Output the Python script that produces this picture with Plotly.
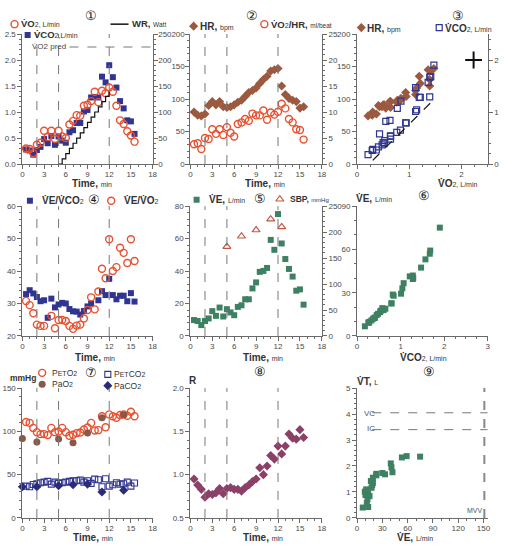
import plotly.graph_objects as go

W, H = 509, 549

# ---------------- data ----------------
time = [0.5, 1.0, 1.5, 2.0, 2.5, 3.0, 3.5, 4.0, 4.5, 5.0, 5.5, 6.0, 6.5, 7.0, 7.5, 8.0,
        8.5, 9.0, 9.5, 10.0, 10.5, 11.0, 11.5, 12.0, 12.5, 13.0, 13.5, 14.0, 14.5, 15.0, 15.5]
vo2 = [0.30, 0.29, 0.21, 0.37, 0.41, 0.64, 0.52, 0.64, 0.48, 0.64, 0.53, 0.50, 0.76, 0.83, 0.94, 0.93,
       1.12, 1.14, 1.21, 1.39, 1.19, 1.41, 1.36, 1.47, 1.39, 1.12, 0.84, 0.77, 0.63, 0.55, 0.43]
vco2 = [0.28, 0.26, 0.18, 0.27, 0.33, 0.48, 0.40, 0.54, 0.37, 0.53, 0.45, 0.41, 0.61, 0.65, 0.79, 0.79,
        1.01, 1.04, 1.28, 1.29, 1.28, 1.68, 1.57, 1.90, 1.67, 1.47, 1.21, 1.07, 0.84, 0.82, 0.58]
wr_time = [5.0, 5.5, 6.0, 6.5, 7.0, 7.5, 8.0, 8.5, 9.0, 9.5, 10.0, 10.5, 11.0, 11.5, 12.0]
wr = [0, 10, 20, 30, 40, 50, 60, 70, 80, 90, 100, 110, 120, 130, 140]
hr = [80, 75, 74, 77, 90, 96, 91, 96, 88, 87, 88, 91, 95, 98, 104, 110,
      113, 117, 124, 130, 135, 143, 145, 147, 120, 107, 101, 98, 96, 86, 88]
o2pulse = [3.8, 4.0, 2.9, 5.0, 4.8, 6.7, 5.8, 6.7, 5.6, 7.1, 6.0, 5.3, 7.7, 8.0, 8.65, 8.3,
           9.7, 9.35, 9.35, 10.3, 8.5, 9.9, 9.5, 10.05, 11.6, 10.7, 8.65, 8.0, 6.7, 6.55, 4.7]
ve = [9.8, 9.2, 6.7, 9.2, 10.8, 15.3, 12.4, 17.5, 12.0, 16.5, 14.5, 12.8, 17.9, 18.9, 22.6, 22.6,
      29.3, 33.0, 39.5, 40.1, 41.9, 59.2, 53.1, 75.1, 57.0, 47.4, 41.3, 36.6, 27.9, 28.7, 19.3]
ve_vco2 = [32.9, 34.1, 33.1, 32.0, 30.7, 31.0, 25.6, 31.5, 28.8, 29.7, 30.2, 30.0, 28.3, 27.6, 27.5, 26.6,
           27.7, 29.1, 30.0, None, 31.0, 33.8, 32.6, 37.6, 32.6, 31.3, 32.4, 32.4, 30.7, 33.2, 30.6]
ve_vo2 = [30.8, 29.5, 27.0, 23.5, 23.1, 23.1, None, 26.2, 22.4, 24.9, 24.9, 24.6, 23.1, 22.2, 23.2, 23.5,
          25.4, 28.0, 31.9, 28.2, 33.7, 40.7, 37.8, 49.8, 40.0, 41.2, 47.2, 45.6, 42.5, 49.8, 43.1]
sbp_time = [5.0, 7.0, 9.0, 11.0, 12.5]
sbp = [172, 192, 204, 225, 210]
peto2 = [110.9, 109.8, 104.0, 99.1, 96.8, 96.8, 95.7, 104.0, 99.1, 99.9, 104.0, 99.1, 95.0, 96.1, 98.0, 98.7,
         102.2, 104.4, 109.8, 101.0, 101.4, 117.4, 104.8, 119.6, 117.4, 115.8, 118.9, 119.6, 118.1, 122.7, 117.4]
petco2 = [36.8, 36.1, 38.7, 39.5, 40.6, 41.4, 42.2, 39.1, 41.4, 39.9, 40.6, 41.4, 42.2, 42.9, 42.9, 43.7,
          41.4, 42.9, 39.9, 44.8, 44.1, 36.1, 45.2, 36.8, 38.4, 40.6, 39.1, 39.5, 41.4, 36.8, 40.3]
blood_time = [0, 2, 5, 7, 9, 11, 14]
pao2 = [91.9, 87.7, 91.1, 87.0, 98.0, 115.8, 119.3]
paco2 = [36.1, 36.1, 37.2, 38.4, 39.1, 30.0, 31.9]
r_ratio = [0.95, 0.88, 0.83, 0.74, 0.78, 0.77, 0.79, 0.84, 0.78, 0.84, 0.85, 0.83, 0.83, 0.81, 0.85, 0.88,
           0.92, 0.95, 1.08, 1.00, 1.10, 1.22, 1.18, 1.33, 1.24, 1.33, 1.47, 1.42, 1.41, 1.52, 1.43]
ve9 = [6.8, 9.2, 10.0, 10.8, 11.6, 12.4, 13.2, 13.2, 14.8, 16.4, 17.2, 18.0, 18.8, 18.8, 22.8, 22.8,
       30.0, 33.2, 40.0, 40.8, 42.0, 53.2, 58.8, 74.8]
vt9 = [0.40, 1.01, 0.88, 1.10, 0.57, 0.72, 0.94, 0.42, 0.84, 1.42, 1.16, 1.27, 1.55, 1.35, 1.70, 1.64,
       1.73, 1.68, 2.10, 1.95, 1.76, 2.33, 2.38, 2.36]
phase_marks = [2, 5, 12]
vo2_pred = 2.25
vc, ic, mvv = 4.05, 3.4, 151

# ---------------- styles ----------------
RED = '#e8502f'
NAVY = '#2f3590'
BROWN = '#9b5a40'
GREEN = '#3e8062'
MAROON = '#8c4068'
SBPC = '#c05a45'
FONT = 'Liberation Sans, Arial, sans-serif'
AX = '#6a6a6a'

col = {1: (20.7, 152.7), 2: (191.0, 324.3), 3: (360.0, 492.5)}
row = {1: (30.5, 162.7), 2: (205.5, 337.5), 3: (390.5, 522.5)}


def xd(c):
    return [col[c][0] / W, col[c][1] / W]


def yd(r):
    return [1 - row[r][1] / H, 1 - row[r][0] / H]


def axis(rng, dtick, minor, **kw):
    d = dict(range=rng, dtick=dtick, tick0=rng[0], showline=True, linecolor=AX, linewidth=1,
             ticks='outside', ticklen=4, tickcolor=AX, tickwidth=1,
             tickfont=dict(size=8, color='#4a4a4a', family=FONT),
             showgrid=False, zeroline=False, fixedrange=True,
             minor=dict(ticks='outside', ticklen=2, tickcolor=AX, dtick=minor, showgrid=False))
    d.update(kw)
    return d


def xaxis(rng, dtick, minor, **kw):
    return axis(rng, dtick, minor, ticklabelstandoff=-2, **kw)


fig = go.Figure()


def add(x, y, xa, ya, symbol, color, size=7, lw=1.4):
    fig.add_trace(go.Scatter(x=x, y=y, xaxis=xa, yaxis=ya, mode='markers', showlegend=False,
                             marker=dict(symbol=symbol, color=color, size=size,
                                         line=dict(color=color, width=lw)),
                             cliponaxis=False, hoverinfo='skip'))

# panel 1
add(time, vco2, 'x', 'y', 'square', NAVY, 6, 0)
add(time, vo2, 'x', 'y', 'circle-open', RED, 7)
fig.add_trace(go.Scatter(x=wr_time, y=wr, xaxis='x', yaxis='y10', mode='lines', line_shape='hv',
                         line=dict(color='#111', width=1.2), showlegend=False))
# panel 2
add(time, hr, 'x2', 'y2', 'diamond', BROWN, 7, 0)
add(time, o2pulse, 'x2', 'y11', 'circle-open', RED, 7)
# panel 3
add(vo2, hr, 'x3', 'y3', 'diamond', BROWN, 7, 0)
add(vo2, vco2, 'x3', 'y12', 'square-open', NAVY, 6, 1.2)
fig.add_trace(go.Scatter(x=[2.23], y=[2.0], xaxis='x3', yaxis='y12', mode='markers', showlegend=False,
                         marker=dict(symbol='cross-thin-open', size=12, color='#111',
                                     line=dict(color='#111', width=2))))
# panel 4
add(time, ve_vco2, 'x4', 'y4', 'square', NAVY, 6, 0)
add(time, ve_vo2, 'x4', 'y4', 'circle-open', RED, 7)
# panel 5
add(time, ve, 'x5', 'y5', 'square', GREEN, 6, 0)
add(sbp_time, sbp, 'x5', 'y13', 'triangle-up-open', SBPC, 7, 1.2)
# panel 6
add(vco2, ve, 'x6', 'y6', 'square', GREEN, 6, 0)
# panel 7
add(time, peto2, 'x7', 'y7', 'circle-open', RED, 7)
add(blood_time, pao2, 'x7', 'y7', 'circle', '#8a5848', 7, 0)
add(time, petco2, 'x7', 'y7', 'square-open', NAVY, 6, 1.1)
add(blood_time, paco2, 'x7', 'y7', 'diamond', '#2a2c78', 7, 0)
# panel 8
add(time, r_ratio, 'x8', 'y8', 'diamond', MAROON, 7, 0)
# panel 9
add(ve9, vt9, 'x9', 'y9', 'square', GREEN, 6, 0)

lay = {}
for i, (c, r) in {1: (1, 1), 2: (2, 1), 4: (1, 2), 5: (2, 2), 7: (1, 3), 8: (2, 3)}.items():
    k = '' if i == 1 else str(i)
    lay['xaxis' + k] = xaxis([0, 18], 3, 1, domain=xd(c), anchor='y' + k)
lay['xaxis3'] = xaxis([0, 2.5], 1, 0.25, domain=xd(3), anchor='y3')
lay['xaxis6'] = xaxis([0, 3], 1, 0.25, domain=xd(3), anchor='y6')
lay['xaxis9'] = xaxis([0, 155], 30, 10, domain=xd(3), anchor='y9')

lay['yaxis'] = axis([0, 2.5], 0.5, 0.1, domain=yd(1), anchor='x', tickformat='.1f')
lay['yaxis2'] = axis([0, 200], 50, 10, domain=yd(1), anchor='x2', ticklabelstandoff=-1)
lay['yaxis3'] = axis([0, 200], 50, 10, domain=yd(1), anchor='x3')
lay['yaxis4'] = axis([20, 60], 10, 2, domain=yd(2), anchor='x4')
lay['yaxis5'] = axis([0, 80], 20, 4, domain=yd(2), anchor='x5')
lay['yaxis6'] = axis([0, 90], 30, 10, domain=yd(2), anchor='x6')
lay['yaxis7'] = axis([0, 150], 50, 10, domain=yd(3), anchor='x7')
lay['yaxis8'] = axis([0.5, 2.0], 0.5, 0.1, domain=yd(3), anchor='x8', tickformat='.1f')
lay['yaxis9'] = axis([0, 5], 1, 0.2, domain=yd(3), anchor='x9')
lay['yaxis10'] = axis([0, 250], 50, 10, overlaying='y', side='right', anchor='x', ticklabelstandoff=-1)
lay['yaxis11'] = axis([0, 25], 5, 1, overlaying='y2', side='right', anchor='x2')
lay['yaxis12'] = axis([0, 2.5], 1, 0.2, overlaying='y3', side='right', anchor='x3')
lay['yaxis13'] = axis([0, 250], 50, 10, overlaying='y5', side='right', anchor='x5')
lay['xaxis20'] = dict(domain=[0, 1], range=[0, W], visible=False, fixedrange=True)
lay['yaxis20'] = dict(domain=[0, 1], range=[H, 0], visible=False, fixedrange=True, anchor='x20')

leg = [
    (12.7, 20.5, 'circle-open', RED, 7, 1.4), (26, 31.5, 'square', NAVY, 6, 0),
    (194.3, 22.5, 'diamond', BROWN, 7, 0), (266, 20.5, 'circle-open', RED, 7, 1.4),
    (364.3, 24, 'diamond', BROWN, 7, 0), (443.3, 24, 'square-open', NAVY, 6, 1.2),
    (28.3, 200, 'square', NAVY, 6, 0), (110.7, 200, 'circle-open', RED, 7, 1.4),
    (197.3, 199, 'square', GREEN, 6, 0), (281.7, 198.5, 'triangle-up-open', SBPC, 7, 1.2),
    (40.7, 375, 'circle-open', RED, 7, 1.4), (40.7, 386.5, 'circle', '#8a5848', 7, 0),
    (107.3, 376.5, 'square-open', NAVY, 6, 1.1), (107.3, 388, 'diamond', '#2a2c78', 7, 0),
]
for (lx, ly, s, c, sz, lw) in leg:
    fig.add_trace(go.Scatter(x=[lx], y=[ly], xaxis='x20', yaxis='y20', mode='markers', showlegend=False,
                             hoverinfo='skip',
                             marker=dict(symbol=s, color=c, size=sz, line=dict(color=c, width=lw))))
fig.add_trace(go.Scatter(x=[110, 128.3], y=[20.5, 20.5], xaxis='x20', yaxis='y20', mode='lines',
                         hoverinfo='skip', line=dict(color='#111', width=1.5), showlegend=False))

shapes = []
for xa, ya in [('x', 'y'), ('x2', 'y2'), ('x4', 'y4'), ('x5', 'y5'), ('x7', 'y7'), ('x8', 'y8')]:
    for t in phase_marks:
        shapes.append(dict(type='line', xref=xa, yref=ya + ' domain', x0=t, x1=t, y0=0, y1=1,
                           line=dict(color='#777', width=1, dash='dash')))
shapes.append(dict(type='line', xref='x', yref='y', x0=6.5, x1=18, y0=vo2_pred, y1=vo2_pred,
                   line=dict(color='#777', width=1, dash='dash')))
shapes.append(dict(type='line', xref='x3', yref='y12', x0=0.3, x1=1.52, y0=0.07, y1=1.29,
                   line=dict(color='#111', width=1.2, dash='dash')))
shapes.append(dict(type='line', xref='x9', yref='y9', x0=18, x1=155, y0=vc, y1=vc,
                   line=dict(color='#777', width=1, dash='dash')))
shapes.append(dict(type='line', xref='x9', yref='y9', x0=18, x1=155, y0=ic, y1=ic,
                   line=dict(color='#777', width=1, dash='dash')))
shapes.append(dict(type='line', xref='x9', yref='y9', x0=mvv, x1=mvv, y0=0, y1=5,
                   line=dict(color='#888', width=2, dash='dash')))

ann = []


def text(x, y, s, size=10, anchor='left', color='#333'):
    ann.append(dict(x=x / W, y=1 - y / H, xref='paper', yref='paper', text=s, showarrow=False,
                    xanchor=anchor, yanchor='middle', borderpad=0,
                    font=dict(size=size, color=color, family=FONT)))


V = 'V\u0307'
sm = lambda s, z=7: "<span style='font-size:%spx'>%s</span>" % (z, s)
for n, (cx, cy) in zip('①②③④⑤⑥⑦⑧⑨', [(90.7, 11.5), (253, 11.5), (462, 11.5), (93.3, 199), (261.7, 197.5),
                                         (428.3, 195), (90.7, 375), (261.7, 374), (433.3, 374)]):
    text(cx, cy, n, 13, 'center', '#222')

text(18.5, 20, '<b>' + V + 'O</b>' + sm('2, L/min'), 9.5)
text(31.5, 31.5, '<b>' + V + 'CO</b>' + sm('2,L/min'), 9.5)
text(131, 19.5, '<b>WR,</b> ' + sm('Watt', 6.5), 9.5)
text(29, 43.5, V + 'O2 pred', 8, color='#444')
text(199.5, 22.5, '<b>HR,</b> ' + sm('bpm'))
text(272, 20.5, '<b>' + V + 'O</b>' + sm('2') + '<b>/HR,</b> ' + sm('ml/beat', 6.5), 9.5)
text(369.5, 24.5, '<b>HR,</b> ' + sm('bpm'))
text(448.5, 24.5, '<b>' + V + 'CO</b>' + sm('2, L/min'))
text(39.5, 200, '<b>' + V + 'E/' + V + 'CO</b>' + sm('2'))
text(122.5, 200, '<b>' + V + 'E/' + V + 'O</b>' + sm('2'))
text(208.5, 199, '<b>' + V + 'E,</b> ' + sm('L/min'))
text(291.5, 198, '<b>SBP,</b> ' + sm('mmHg', 6), 8.5)
text(357.5, 198, '<b>' + V + 'E,</b> ' + sm('L/min'))
text(7.5, 380.5, '<b>mmHg</b>', 8.5)
text(49.5, 375, 'P' + sm('ET') + 'O' + sm('2'), 8.5)
text(49.5, 386.5, 'PaO' + sm('2'), 8.5)
text(112.5, 376.5, 'P' + sm('ET') + 'CO' + sm('2'), 8.5)
text(112.5, 388, 'PaCO' + sm('2'), 8.5)
text(189, 382.5, '<b>R</b>', 10)
text(359, 384, '<b>' + V + 'T,</b> ' + sm('L'))
text(366, 416.5, 'VC', 8, color='#555')
text(369, 432, 'IC', 8, color='#555')
text(470, 515, 'MVV', 7, color='#555')
for cx, cy in [(91, 182.5), (266.7, 182.5), (94, 359.5), (265, 359.5), (92.5, 542.5), (265, 542.5)]:
    text(cx, cy, '<b>Time,</b> ' + sm('min'), 10, 'center')
text(462, 182.5, '<b>' + V + 'O</b>' + sm('2, L/min'), 10, 'center')
text(427, 359.5, '<b>' + V + 'CO</b>' + sm('2, L/min'), 10, 'center')
text(419, 542.5, '<b>' + V + 'E,</b> ' + sm('L/min'), 10, 'center')

fig.update_layout(width=W, height=H, margin=dict(l=0, r=0, t=0, b=0), paper_bgcolor='white',
                  plot_bgcolor='rgba(0,0,0,0)', showlegend=False, shapes=shapes, annotations=ann,
                  font=dict(family=FONT), hovermode=False, **lay)
fig.write_html('out.html', config={'displayModeBar': False, 'staticPlot': True},
               post_script="document.body.style.margin='0';document.body.style.padding='0';")
